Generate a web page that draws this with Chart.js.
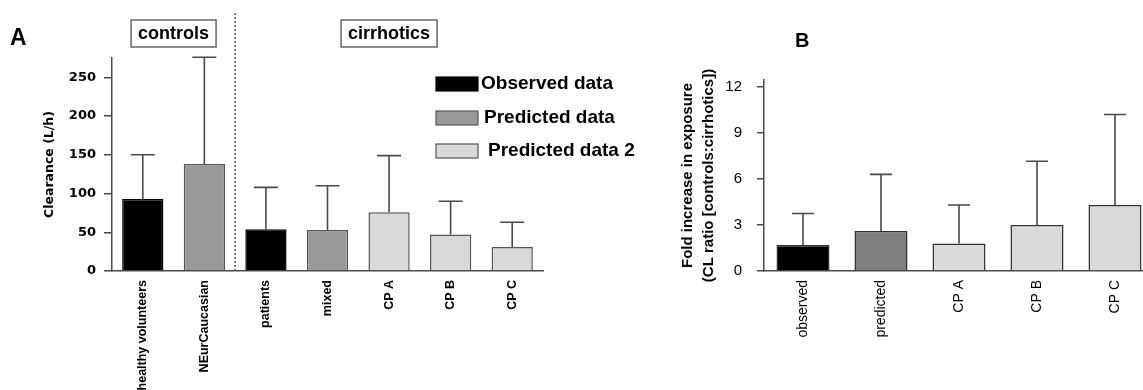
<!DOCTYPE html>
<html>
<head>
<meta charset="utf-8">
<script src="https://cdn.jsdelivr.net/npm/chart.js@4/dist/chart.umd.min.js"></script>
<style>
  html, body { margin: 0; padding: 0; background: #fff; overflow: hidden; }
  body { width: 1143px; height: 390px; position: relative; }
  .panel { position: absolute; top: 0; height: 390px; }
  #wrapA { left: 0; width: 640px; }
  #wrapB { left: 640px; width: 530px; }
</style>
</head>
<body>
<div id="wrapA" class="panel"><canvas id="chartA"></canvas></div>
<div id="wrapB" class="panel"><canvas id="chartB"></canvas></div>
<script>
// panel A: clearance
const catsA = ["healthy volunteers", "NEurCaucasian", "patients", "mixed", "CP A", "CP B", "CP C"];
const clearance = [93, 138, 54, 53, 76, 47, 31];
const clearanceUpper = [150, 276, 108, 110, 149, 90, 63];
const kindA = [0, 1, 0, 1, 2, 2, 2];
const ticksA = [0, 50, 100, 150, 200, 250];
const groupsA = ["controls", "cirrhotics"];
const legendA = ["Observed data", "Predicted data", "Predicted data 2"];

// panel B: fold increase
const catsB = ["observed", "predicted", "CP A", "CP B", "CP C"];
const fold = [1.7, 2.6, 1.8, 3.0, 4.3];
const foldUpper = [3.75, 6.3, 4.3, 7.15, 10.2];
const kindB = [0, 1, 2, 2, 2];
const ticksB = [0, 3, 6, 9, 12];

const fillA = ["#000000", "#999999", "#d9d9d9"];
const fillB = ["#000000", "#7f7f7f", "#d9d9d9"];
const axisCol = "#4a4a4a";

Chart.defaults.color = "#000";
Chart.defaults.animation = false;

// error bars drawn up from the bar top
const errorBars = {
  id: "errorBars",
  afterDatasetsDraw(chart, args, opts) {
    const ctx = chart.ctx;
    const y = chart.scales.y;
    const meta = chart.getDatasetMeta(0);
    ctx.save();
    ctx.strokeStyle = axisCol;
    ctx.lineWidth = 1.6;
    meta.data.forEach((bar, i) => {
      const top = y.getPixelForValue(opts.upper[i]);
      ctx.beginPath();
      ctx.moveTo(bar.x, bar.y);
      ctx.lineTo(bar.x, top);
      ctx.moveTo(bar.x - opts.cap, top);
      ctx.lineTo(bar.x + opts.cap, top);
      ctx.stroke();
    });
    ctx.restore();
  }
};

// panel A extras: letter, group boxes, separator, legend
const decorA = {
  id: "decorA",
  afterDraw(chart) {
    const ctx = chart.ctx;
    const x = chart.scales.x;
    ctx.save();
    ctx.fillStyle = "#000";
    ctx.font = "bold 23px 'Liberation Sans'";
    ctx.textBaseline = "alphabetic";
    ctx.fillText("A", 10, 45);

    // separator between controls and cirrhotics
    const sep = (x.getPixelForValue(1) + x.getPixelForValue(2)) / 2;
    ctx.strokeStyle = "#555";
    ctx.lineWidth = 1.5;
    ctx.setLineDash([2, 2]);
    ctx.beginPath();
    ctx.moveTo(sep, 13);
    ctx.lineTo(sep, chart.chartArea.bottom);
    ctx.stroke();
    ctx.setLineDash([]);

    // group headers
    const spans = [[0, 1], [2, 6]];
    ctx.font = "bold 18px 'Liberation Sans'";
    ctx.textAlign = "center";
    ctx.textBaseline = "middle";
    groupsA.forEach((g, i) => {
      const cx = (x.getPixelForValue(spans[i][0]) + x.getPixelForValue(spans[i][1])) / 2;
      const w = ctx.measureText(g).width + 14;
      ctx.strokeStyle = "#666";
      ctx.lineWidth = 1.5;
      ctx.strokeRect(cx - w / 2, 20, w, 27);
      ctx.fillText(g, cx, 34);
    });

    // legend
    const rows = [84, 118, 151];
    const textX = [481, 484, 488];
    ctx.textAlign = "left";
    ctx.font = "bold 19px 'Liberation Sans'";
    legendA.forEach((t, i) => {
      ctx.fillStyle = fillA[i];
      ctx.fillRect(436, rows[i] - 7, 42, 14);
      ctx.strokeStyle = i === 0 ? "#000" : "#555";
      ctx.lineWidth = 1.2;
      ctx.strokeRect(436, rows[i] - 7, 42, 14);
      ctx.fillStyle = "#000";
      ctx.fillText(t, textX[i], rows[i]);
    });
    ctx.restore();
  }
};

const decorB = {
  id: "decorB",
  afterDraw(chart) {
    const ctx = chart.ctx;
    ctx.save();
    ctx.fillStyle = "#000";
    ctx.font = "bold 20px 'Liberation Sans'";
    ctx.fillText("B", 155, 47);
    ctx.restore();
  }
};

new Chart(document.getElementById("chartA"), {
  type: "bar",
  data: {
    labels: catsA,
    datasets: [{
      data: clearance,
      backgroundColor: kindA.map(k => fillA[k]),
      borderColor: kindA.map(k => k === 0 ? "#000" : "#555"),
      borderWidth: 1.5,
      barPercentage: 0.67,
      categoryPercentage: 1
    }]
  },
  options: {
    responsive: true,
    maintainAspectRatio: false,
    layout: { padding: { left: 0, right: 97, top: 58, bottom: 0 } },
    plugins: {
      legend: { display: false },
      tooltip: { enabled: false },
      errorBars: { upper: clearanceUpper, cap: 12 }
    },
    scales: {
      x: {
        grid: { display: false, drawTicks: false },
        border: { color: axisCol, width: 1.5 },
        ticks: {
          autoSkip: false, maxRotation: 90, minRotation: 90, padding: 9,
          font: { family: "'Liberation Sans'", weight: "bold", size: 12.5 }
        },
        afterFit(s) { s.height = 119; }
      },
      y: {
        min: 0, max: 275,
        afterBuildTicks(s) { s.ticks = ticksA.map(v => ({ value: v })); },
        grid: { drawOnChartArea: false, tickLength: 8, color: axisCol, lineWidth: 1.5 },
        border: { color: axisCol, width: 1.5 },
        ticks: {
          padding: 8,
          font: { family: "'DejaVu Sans'", weight: "bold", size: 13 }
        },
        title: {
          display: true, text: "Clearance (L/h)", padding: { top: 42 },
          font: { family: "'DejaVu Sans'", weight: "bold", size: 12.5 }
        },
        afterFit(s) { s.width = 112; }
      }
    }
  },
  plugins: [errorBars, decorA]
});

new Chart(document.getElementById("chartB"), {
  type: "bar",
  data: {
    labels: catsB,
    datasets: [{
      data: fold,
      backgroundColor: kindB.map(k => fillB[k]),
      borderColor: "#333",
      borderWidth: 1.5,
      barPercentage: 0.68,
      categoryPercentage: 1
    }]
  },
  options: {
    responsive: true,
    maintainAspectRatio: false,
    layout: { padding: { left: 0, right: 16, top: 80, bottom: 0 } },
    plugins: {
      legend: { display: false },
      tooltip: { enabled: false },
      errorBars: { upper: foldUpper, cap: 11 }
    },
    scales: {
      x: {
        grid: { display: false, drawTicks: false },
        border: { color: axisCol, width: 1.5 },
        ticks: {
          autoSkip: false, maxRotation: 90, minRotation: 90, padding: 9,
          font: { family: "'Liberation Sans'", size: 14 }
        },
        afterFit(s) { s.height = 119; }
      },
      y: {
        min: 0, max: 12.45,
        afterBuildTicks(s) { s.ticks = ticksB.map(v => ({ value: v })); },
        grid: { drawOnChartArea: false, tickLength: 7, color: axisCol, lineWidth: 1.5 },
        border: { color: axisCol, width: 1.5 },
        ticks: {
          padding: 15,
          font: { family: "'Liberation Sans'", size: 15 }
        },
        title: {
          display: true,
          text: ["Fold increase in exposure", "(CL ratio [controls:cirrhotics])"],
          padding: { top: 37 },
          font: { family: "'Liberation Sans'", weight: "bold", size: 15, lineHeight: 1.4 }
        },
        afterFit(s) { s.width = 124; }
      }
    }
  },
  plugins: [errorBars, decorB]
});
</script>
</body>
</html>
